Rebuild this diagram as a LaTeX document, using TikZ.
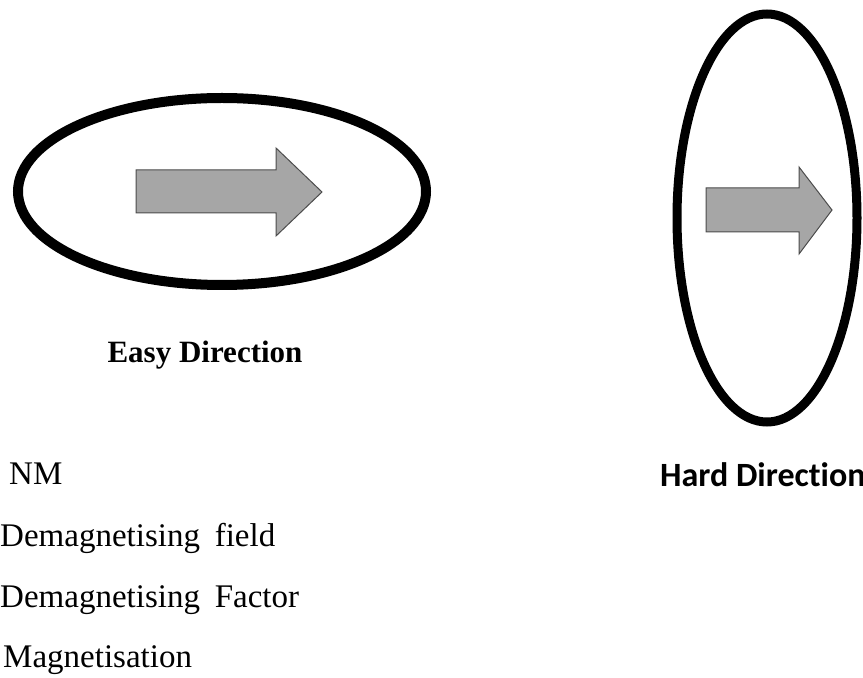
\documentclass[tikz,border=0pt]{standalone}
\usepackage{fontspec}
\setmainfont{Liberation Serif}
\newfontfamily\calibri[Ligatures=NoCommon]{Carlito}

\tikzset{
  magnet/.style={draw=black},
  blockarrow/.style={fill=black!35, draw=black!70, line width=1pt, line join=miter},
  label/.style={inner sep=0pt, anchor=base west, text=black}
}

\begin{document}
\begin{tikzpicture}[x=1pt, y=1pt]

\useasboundingbox (0,0) rectangle (863,678);

% ============================================================
% LEFT: elongated along the field
% ============================================================
\draw[magnet, line width=10pt] (222,486.5) ellipse (204 and 93.5);

% Magnetisation arrow
\draw[blockarrow] (136,508) -- (276,508) -- (276,530) -- (322,486)
  -- (276,442) -- (276,465) -- (136,465) -- cycle;

\node[inner sep=0pt, anchor=base, font=\fontsize{31}{34}\selectfont\bfseries]
  (easy) at (205,315) {Easy Direction};

% ============================================================
% RIGHT: elongated across the field
% ============================================================
\draw[magnet, line width=9pt] (767,460) ellipse (90 and 204);

\draw[blockarrow] (706,490) -- (799,490) -- (799,511) -- (832,468)
  -- (799,424) -- (799,446) -- (706,446) -- cycle;

\node[label, font=\calibri\fontsize{34}{37}\selectfont\bfseries]
  (hard) at (660,191) {Hard Direction};

% ============================================================
% KEY
% ============================================================
\begin{scope}[every node/.style={label, font=\fontsize{33}{36}\selectfont}]
  \node (nm)      at (9,193) {NM};
  \node (hdfield) at (0,131) {Demagnetising\hspace{0.45em}field};
  \node (nfactor) at (0,70)  {Demagnetising\hspace{0.45em}Factor};
  \node (magn)    at (3,10)  {Magnetisation};
\end{scope}

\end{tikzpicture}
\end{document}
